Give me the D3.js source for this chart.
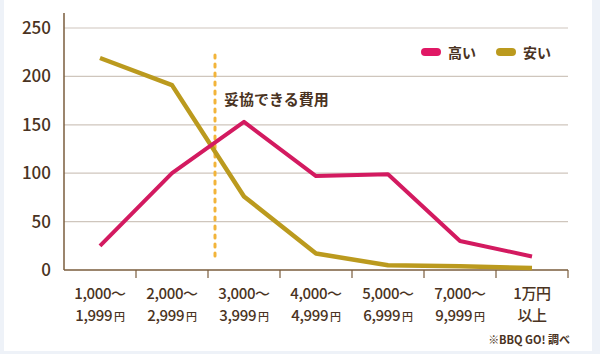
<!DOCTYPE html>
<html>
<head>
<meta charset="utf-8">
<script src="https://cdn.jsdelivr.net/npm/d3@7"></script>
<style>
  body { margin: 0; background: #eef2f8; }
  svg { display: block; font-family: "Noto Sans CJK JP", "Noto Sans", sans-serif; }
</style>
</head>
<body>
<svg width="600" height="354"></svg>
<script>
// price ranges (two lines each, yen sign drawn smaller)
const categories = ["1,000～|1,999", "2,000～|2,999", "3,000～|3,999", "4,000～|4,999",
                    "5,000～|6,999", "7,000～|9,999", "1万円|以上"];
const takai = [25, 100, 153, 97, 99, 30, 14];   // 高い
const yasui = [219, 191, 76, 17, 5, 4, 2];      // 安い
const yTicks = [0, 50, 100, 150, 200, 250];

const svg = d3.select("svg");
const brown = "#4a3322";

// white card
svg.append("rect").attr("x", 4).attr("y", 0).attr("width", 588).attr("height", 351).attr("fill", "#fff");

const x = d3.scaleBand().domain(categories).range([64, 568]);
const y = d3.scaleLinear().domain([0, 250]).range([270, 28]);

// gridlines
svg.selectAll("line.grid")
  .data(yTicks.filter(d => d > 0))
  .enter().append("line")
  .attr("x1", 64).attr("x2", 568)
  .attr("y1", d => y(d)).attr("y2", d => y(d))
  .attr("stroke", "#cfc6bd").attr("stroke-width", 1.2);

// y labels
svg.selectAll("text.ylab")
  .data(yTicks)
  .enter().append("text")
  .attr("x", 51).attr("y", d => y(d) + 6)
  .attr("text-anchor", "end")
  .attr("font-size", 17).attr("font-weight", 500)
  .attr("fill", brown)
  .text(d => d);

// axes lines
svg.append("line").attr("x1", 64).attr("x2", 64).attr("y1", 13).attr("y2", 270)
  .attr("stroke", "#7a5c3c").attr("stroke-width", 1.5);
svg.append("line").attr("x1", 64).attr("x2", 568).attr("y1", 270).attr("y2", 270)
  .attr("stroke", "#7a5c3c").attr("stroke-width", 1.5);
svg.selectAll("line.tick")
  .data(categories)
  .enter().append("line")
  .attr("x1", d => x(d) + x.bandwidth()).attr("x2", d => x(d) + x.bandwidth())
  .attr("y1", 270).attr("y2", 278)
  .attr("stroke", "#7a5c3c").attr("stroke-width", 1.2);

// x labels
const xl = svg.selectAll("g.xlab")
  .data(categories)
  .enter().append("g")
  .attr("transform", d => `translate(${x(d) + x.bandwidth() / 2},0)`);
xl.each(function(d, i) {
  const parts = d.split("|");
  const g = d3.select(this);
  const last = i === categories.length - 1;
  g.append("text").attr("y", 299).attr("text-anchor", "middle")
    .attr("font-size", 15).attr("font-weight", 500).attr("fill", brown)
    .attr("letter-spacing", -0.4).text(parts[0]);
  const t2 = g.append("text").attr("y", 321).attr("text-anchor", "middle")
    .attr("font-size", 15).attr("font-weight", 500).attr("fill", brown)
    .attr("letter-spacing", -0.4);
  t2.append("tspan").text(parts[1]);
  if (!last) t2.append("tspan").attr("font-size", 11).attr("dx", 2).text("円");
});

// dotted "妥協できる費用" marker between 2,000 and 3,000 bands
const markX = x(categories[2]) + 7;
svg.append("line").attr("x1", markX).attr("x2", markX).attr("y1", 55).attr("y2", 257)
  .attr("stroke", "#f2b43a").attr("stroke-width", 3)
  .attr("stroke-dasharray", "3,6").attr("stroke-linecap", "round");
svg.append("text").attr("x", markX + 9).attr("y", 105)
  .attr("font-size", 15).attr("font-weight", 700).attr("fill", brown)
  .text("妥協できる費用");

// lines
const line = d3.line()
  .x((d, i) => x(categories[i]) + x.bandwidth() / 2)
  .y(d => y(d));

svg.append("path").datum(yasui).attr("d", line)
  .attr("fill", "none").attr("stroke", "#bb9a1e").attr("stroke-width", 4.5)
  .attr("stroke-linejoin", "round");
svg.append("path").datum(takai).attr("d", line)
  .attr("fill", "none").attr("stroke", "#d31a60").attr("stroke-width", 4)
  .attr("stroke-linejoin", "round");

// legend
const legend = [["高い", "#e01865", 421], ["安い", "#bb9a1e", 496]];
legend.forEach(([name, c, lx]) => {
  svg.append("rect").attr("x", lx).attr("y", 48).attr("width", 20).attr("height", 8)
    .attr("rx", 4).attr("fill", c);
  svg.append("text").attr("x", lx + 27).attr("y", 58)
    .attr("font-size", 14).attr("font-weight", 700).attr("fill", brown).text(name);
});

// source
svg.append("text").attr("x", 570).attr("y", 344).attr("text-anchor", "end")
  .attr("font-size", 11).attr("font-weight", 700).attr("fill", brown)
  .text("※BBQ GO! 調べ");
</script>
</body>
</html>
